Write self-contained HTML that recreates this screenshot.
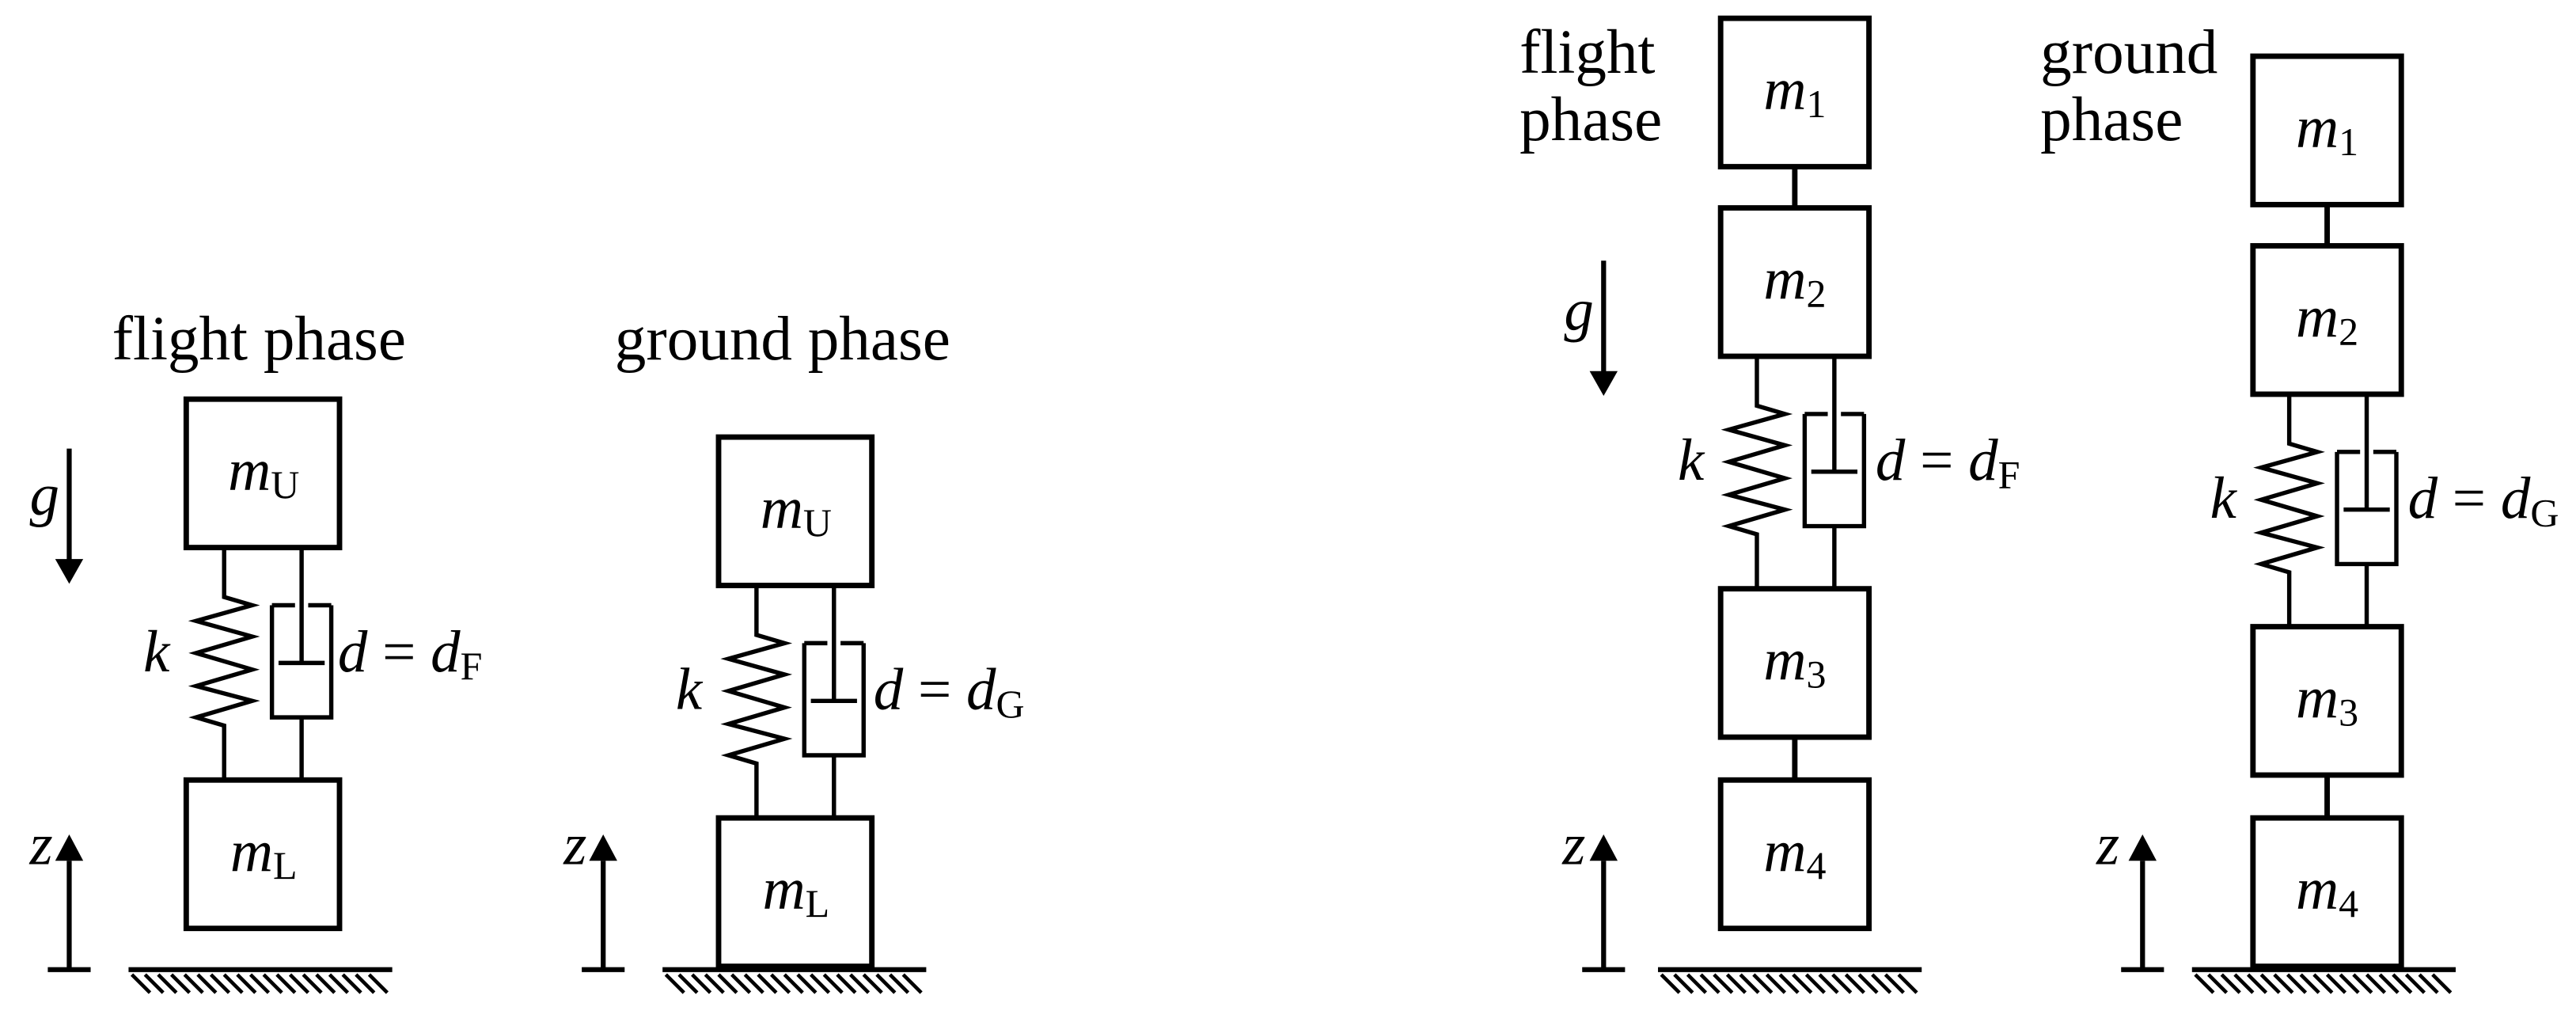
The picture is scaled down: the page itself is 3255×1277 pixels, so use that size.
<!DOCTYPE html>
<html><head><meta charset="utf-8"><style>
html,body{margin:0;padding:0;background:#fff;}
svg{display:block;}
text{font-family:"Liberation Serif",serif;fill:#000;}
.i{font-style:italic;}
</style></head><body>
<svg width="3255" height="1277" viewBox="0 0 1563 613" xmlns="http://www.w3.org/2000/svg">
<defs>
<g id="sd" fill="none" stroke="#000" stroke-width="2.6">
  <path d="M23,0 V30 L40,35 L6,44.5 L40,54 L6,64 L40,74 L6,84 L40,93 L6,103 L23,108 V140"/>
  <path d="M70,0 V70 M56,70 H84 M52,35 H66 M74,35 H88 M52,35 V103 H88 V35 M70,103 V140"/>
</g>
<g id="hatch" stroke="#000" stroke-width="2.2">
  <line x1="0" y1="0" x2="160" y2="0" stroke-width="3"/>
  <path d="M2,3 l11,11 M10,3 l11,11 M18,3 l11,11 M26,3 l11,11 M34,3 l11,11 M42,3 l11,11 M50,3 l11,11 M58,3 l11,11 M66,3 l11,11 M74,3 l11,11 M82,3 l11,11 M90,3 l11,11 M98,3 l11,11 M106,3 l11,11 M114,3 l11,11 M122,3 l11,11 M130,3 l11,11 M138,3 l11,11 M146,3 l11,11"/>
</g>
<g id="zarr" stroke="#000">
  <line x1="0" y1="0" x2="0" y2="-66" stroke-width="3"/>
  <path d="M0,-82 L-8.5,-66 L8.5,-66 Z" stroke="none" fill="#000"/>
  <line x1="-13" y1="0" x2="13" y2="0" stroke-width="3"/>
</g>
<g id="garr">
  <line x1="0" y1="0" x2="0" y2="68" stroke="#000" stroke-width="3"/>
  <path d="M0,82 L-8.5,67 L8.5,67 Z" fill="#000"/>
</g>
</defs>
<g fill="none" stroke="#000" stroke-width="3.3">
  <rect x="113" y="242" width="93" height="90"/>
  <rect x="113" y="473" width="93" height="90"/>
  <rect x="436" y="265" width="93" height="90"/>
  <rect x="436" y="496" width="93" height="90"/>
  <rect x="1044" y="11" width="90" height="90"/>
  <rect x="1044" y="126" width="90" height="90"/>
  <rect x="1044" y="357" width="90" height="90"/>
  <rect x="1044" y="473" width="90" height="90"/>
  <path d="M1089,101 V126 M1089,447 V473"/>
  <rect x="1367" y="34" width="90" height="90"/>
  <rect x="1367" y="149" width="90" height="90"/>
  <rect x="1367" y="380" width="90" height="90"/>
  <rect x="1367" y="496" width="90" height="90"/>
  <path d="M1412,124 V149 M1412,470 V496"/>
</g>
<use href="#sd" x="113" y="332"/>
<use href="#sd" x="436" y="355"/>
<use href="#sd" x="1043" y="216"/>
<use href="#sd" x="1366" y="239"/>
<use href="#hatch" x="78" y="588"/>
<use href="#hatch" x="402" y="588"/>
<use href="#hatch" x="1006" y="588"/>
<use href="#hatch" x="1330" y="588"/>
<use href="#zarr" x="42" y="588"/>
<use href="#zarr" x="366" y="588"/>
<use href="#zarr" x="973" y="588"/>
<use href="#zarr" x="1300" y="588"/>
<use href="#garr" x="42" y="272"/>
<use href="#garr" x="973" y="158"/>

<g font-size="38">
<text x="68" y="218">flight phase</text>
<text x="373" y="218">ground phase</text>
<text x="922" y="44">flight</text>
<text x="922" y="85">phase</text>
<text x="1238" y="44">ground</text>
<text x="1238" y="85">phase</text>
</g>
<g font-size="36">
<text class="i" x="18" y="312">g</text>
<text class="i" x="949" y="200">g</text>
<text class="i" x="18" y="524">z</text>
<text class="i" x="342" y="524">z</text>
<text class="i" x="948" y="524">z</text>
<text class="i" x="1272" y="524">z</text>

<text class="i" x="87" y="407">k</text>
<text x="205" y="407"><tspan class="i">d</tspan> = <tspan class="i">d</tspan><tspan font-size="24" dy="5">F</tspan></text>
<text class="i" x="410" y="430">k</text>
<text x="530" y="430"><tspan class="i">d</tspan> = <tspan class="i">d</tspan><tspan font-size="24" dy="5">G</tspan></text>
<text class="i" x="1018" y="291">k</text>
<text x="1138" y="291"><tspan class="i">d</tspan> = <tspan class="i">d</tspan><tspan font-size="24" dy="5">F</tspan></text>
<text class="i" x="1341" y="314">k</text>
<text x="1461" y="314"><tspan class="i">d</tspan> = <tspan class="i">d</tspan><tspan font-size="24" dy="5">G</tspan></text>
</g>
<g font-size="36" text-anchor="middle">
<text x="160" y="297"><tspan class="i">m</tspan><tspan font-size="24" dy="5">U</tspan></text>
<text x="160" y="528"><tspan class="i">m</tspan><tspan font-size="24" dy="5">L</tspan></text>
<text x="483" y="320"><tspan class="i">m</tspan><tspan font-size="24" dy="5">U</tspan></text>
<text x="483" y="551"><tspan class="i">m</tspan><tspan font-size="24" dy="5">L</tspan></text>
<text x="1089" y="66"><tspan class="i">m</tspan><tspan font-size="24" dy="5">1</tspan></text>
<text x="1089" y="181"><tspan class="i">m</tspan><tspan font-size="24" dy="5">2</tspan></text>
<text x="1089" y="412"><tspan class="i">m</tspan><tspan font-size="24" dy="5">3</tspan></text>
<text x="1089" y="528"><tspan class="i">m</tspan><tspan font-size="24" dy="5">4</tspan></text>
<text x="1412" y="89"><tspan class="i">m</tspan><tspan font-size="24" dy="5">1</tspan></text>
<text x="1412" y="204"><tspan class="i">m</tspan><tspan font-size="24" dy="5">2</tspan></text>
<text x="1412" y="435"><tspan class="i">m</tspan><tspan font-size="24" dy="5">3</tspan></text>
<text x="1412" y="551"><tspan class="i">m</tspan><tspan font-size="24" dy="5">4</tspan></text>
</g>
</svg>
</body></html>
